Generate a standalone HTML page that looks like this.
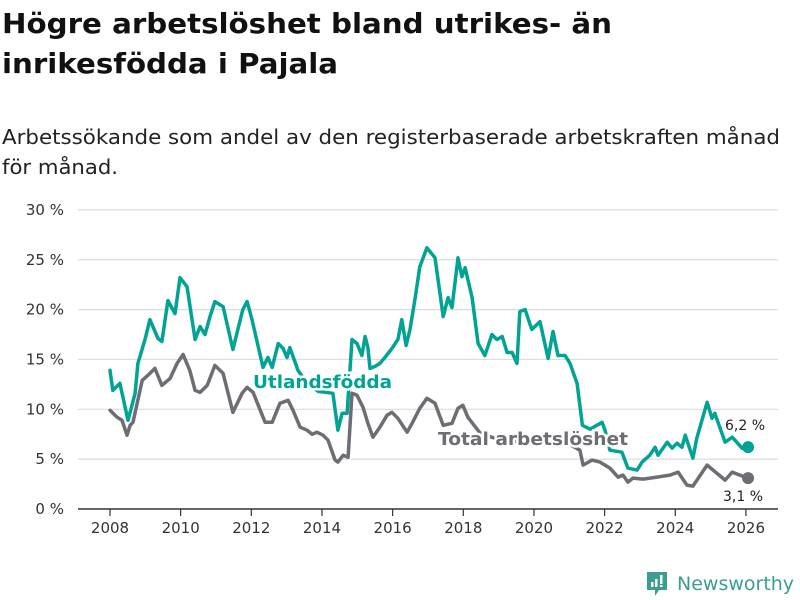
<!DOCTYPE html>
<html><head><meta charset="utf-8"><style>
body{margin:0;background:#fff;width:800px;height:600px;overflow:hidden;font-family:"DejaVu Sans","Liberation Sans",sans-serif;}
svg{position:absolute;left:0;top:0}
</style></head><body>
<svg id="chart" width="800" height="600">
<text font-weight="bold" font-size="28" fill="#111">
<tspan x="2" y="33" textLength="610" lengthAdjust="spacingAndGlyphs">Högre arbetslöshet bland utrikes- än</tspan>
<tspan x="2" y="73" textLength="336" lengthAdjust="spacingAndGlyphs">inrikesfödda i Pajala</tspan></text>
<text font-size="20" fill="#222">
<tspan x="2" y="144" textLength="778" lengthAdjust="spacingAndGlyphs">Arbetssökande som andel av den registerbaserade arbetskraften månad</tspan>
<tspan x="2" y="174" textLength="116" lengthAdjust="spacingAndGlyphs">för månad.</tspan></text>
</svg>
<script>
const yTicks=[0,5,10,15,20,25,30];
const xTicks=[2008,2010,2012,2014,2016,2018,2020,2022,2024,2026];
const utlYears=[2008.0,2008.08,2008.28,2008.51,2008.71,2008.79,2008.99,2009.13,2009.36,2009.47,2009.64,2009.84,2009.98,2010.18,2010.41,2010.55,2010.69,2010.83,2010.97,2011.2,2011.48,2011.76,2011.88,2012.02,2012.33,2012.47,2012.59,2012.76,2012.9,2013.01,2013.09,2013.32,2013.6,2013.9,2014.31,2014.45,2014.57,2014.71,2014.85,2014.99,2015.13,2015.22,2015.3,2015.36,2015.5,2015.64,2015.78,2015.98,2016.15,2016.26,2016.38,2016.49,2016.63,2016.77,2016.97,2017.2,2017.43,2017.57,2017.68,2017.85,2017.96,2018.05,2018.25,2018.42,2018.61,2018.81,2018.95,2019.1,2019.24,2019.38,2019.52,2019.6,2019.75,2019.94,2020.17,2020.4,2020.54,2020.68,2020.88,2021.02,2021.22,2021.37,2021.59,2021.93,2022.01,2022.15,2022.49,2022.66,2022.92,2023.06,2023.28,2023.43,2023.51,2023.77,2023.91,2024.05,2024.19,2024.28,2024.5,2024.61,2024.9,2025.04,2025.12,2025.41,2025.61,2025.69,2025.89,2026.06];
const utlValues=[13.9,11.9,12.6,8.9,11.6,14.6,17,19,17.1,16.8,20.9,19.6,23.2,22.3,17,18.3,17.5,19.3,20.8,20.3,16,20,20.8,19,14.2,15.2,14.2,16.6,16.1,15.2,16.2,13.9,12.5,11.8,11.6,7.9,9.6,9.6,17,16.6,15.4,17.3,16.2,14.1,14.3,14.6,15.2,16.1,17,19,16.4,18,21,24.3,26.2,25.2,19.3,21.2,20.2,25.2,23.3,24.2,21.2,16.6,15.4,17.5,17,17.3,15.7,15.7,14.6,19.8,20,18,18.8,15.1,17.8,15.4,15.4,14.6,12.6,8.4,8.0,8.7,7.9,5.9,5.7,4.1,3.9,4.7,5.4,6.2,5.4,6.7,6.1,6.6,6.2,7.4,5.1,7.1,10.7,9.1,9.6,6.7,7.2,6.9,6.1,6.2];
const totYears=[2008.0,2008.2,2008.34,2008.48,2008.57,2008.65,2008.91,2009.13,2009.27,2009.47,2009.7,2009.9,2010.07,2010.26,2010.41,2010.55,2010.75,2010.97,2011.2,2011.48,2011.74,2011.88,2012.05,2012.39,2012.59,2012.81,2013.04,2013.18,2013.38,2013.58,2013.72,2013.86,2014.03,2014.17,2014.37,2014.45,2014.6,2014.74,2014.85,2014.99,2015.16,2015.3,2015.44,2015.64,2015.84,2015.98,2016.15,2016.41,2016.55,2016.77,2016.97,2017.2,2017.43,2017.68,2017.85,2017.99,2018.13,2018.5,2019.0,2019.5,2020.0,2020.5,2021.0,2021.3,2021.39,2021.64,2021.87,2022.15,2022.38,2022.52,2022.66,2022.8,2023.09,2023.48,2023.85,2024.08,2024.33,2024.5,2024.9,2025.07,2025.41,2025.61,2025.83,2026.06];
const totValues=[9.9,9.2,8.9,7.4,8.4,8.7,12.9,13.6,14.1,12.4,13.1,14.6,15.5,13.9,11.9,11.7,12.4,14.4,13.6,9.7,11.6,12.2,11.7,8.7,8.7,10.6,10.9,9.9,8.2,7.9,7.5,7.7,7.4,6.9,4.9,4.7,5.4,5.2,11.6,11.4,10.2,8.6,7.2,8.2,9.4,9.7,9.1,7.7,8.6,10.1,11.1,10.6,8.4,8.6,10.1,10.4,9.2,7.5,7.0,6.8,7.0,7.2,6.5,5.9,4.4,4.9,4.7,4.1,3.2,3.4,2.7,3.1,3.0,3.2,3.4,3.7,2.4,2.3,4.4,3.9,2.9,3.7,3.4,3.1];
const NS='http://www.w3.org/2000/svg';
const svg=document.getElementById('chart');
const X=y=>110+(y-2008)*35.33;
const Y=v=>509-v*9.97;
function mk(t,a){const e=document.createElementNS(NS,t);for(const k in a)e.setAttribute(k,a[k]);svg.appendChild(e);return e;}
yTicks.forEach(t=>{
 if(t>0){const g=mk('line',{x1:78,x2:778,y1:Y(t),y2:Y(t),stroke:'#dcdcdc','stroke-width':1.2});
 
 }
 const l=mk('text',{x:64,y:Y(t)+5,'text-anchor':'end','font-size':15,fill:'#333'});l.textContent=t+' %';
 
 
});
xTicks.forEach(t=>{
 const k=mk('line',{x1:X(t),x2:X(t),y1:509,y2:516,stroke:'#333','stroke-width':1.2});
 
 
 const l=mk('text',{x:X(t),y:533,'text-anchor':'middle','font-size':15,fill:'#333'});l.textContent=t;
 
 
});
const ax=mk('line',{x1:78,x2:778,y1:509,y2:509,stroke:'#333','stroke-width':1.5});


function line(ys,vs,col,name){
 const p=mk('polyline',{points:ys.map((y,i)=>X(y).toFixed(1)+','+Y(vs[i]).toFixed(1)).join(' '),fill:'none',stroke:col,'stroke-width':3.5,'stroke-linejoin':'round','stroke-linecap':'round'});
 
 
}
line(totYears,totValues,'#6d6d73','total-line');
line(utlYears,utlValues,'#00a394','utlandsfodda-line');
function lbl(x,y,txt,col,name,size,bold,len){
 const t=mk('text',{x:x,y:y,'font-size':size,'font-weight':bold?'bold':'normal',fill:col,stroke:'#fff','stroke-width':bold?5:4,'paint-order':'stroke'});t.textContent=txt;
 if(len){t.setAttribute('textLength',len);t.setAttribute('lengthAdjust','spacingAndGlyphs');}
 
 
}
lbl(253,388,'Utlandsfödda','#00a394','utlandsfodda-label',18,true,139);
lbl(438,445,'Total arbetslöshet','#6d6d73','total-label',18,true,190);
const d1=mk('circle',{cx:X(utlYears[utlYears.length-1]),cy:Y(utlValues[utlValues.length-1]),r:6,fill:'#00a394'});


const d2=mk('circle',{cx:X(totYears[totYears.length-1]),cy:Y(totValues[totValues.length-1]),r:6,fill:'#6d6d73'});


lbl(725,430,'6,2 %','#222','utlandsfodda-end-value',14,false);
lbl(723,501,'3,1 %','#222','total-end-value',14,false);
</script>
<div style="position:absolute;left:645px;top:570px;display:flex;align-items:center">
<svg width="24" height="28" style="position:static"><path d="M2 2h20v18h-8l-4 6v-6H2z" fill="#3a9e91"/><rect x="6" y="12" width="2.5" height="5" fill="#fff"/><rect x="10" y="9" width="2.5" height="8" fill="#fff"/><rect x="15" y="5" width="2.5" height="9" fill="#fff"/><rect x="15" y="15" width="2.5" height="2" fill="#fff"/></svg>
<span style="font-size:19px;color:#3a9e91;margin-left:8px;font-family:'DejaVu Sans',sans-serif">Newsworthy</span></div>
</body></html>
